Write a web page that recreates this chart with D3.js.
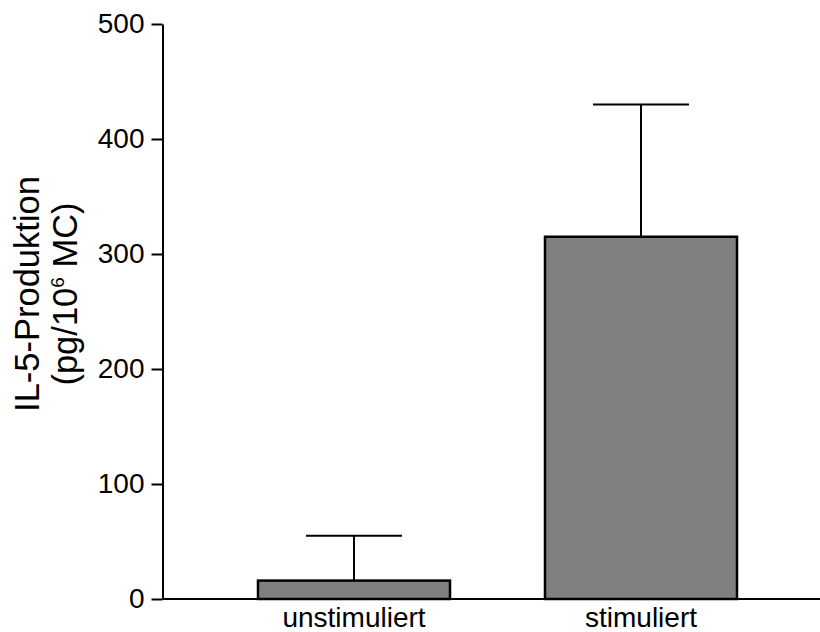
<!DOCTYPE html>
<html>
<head>
<meta charset="utf-8">
<script src="https://cdn.jsdelivr.net/npm/d3@7"></script>
<style>
  body { margin: 0; background: #fff; }
  text { font-family: "Liberation Sans", Arial, sans-serif; fill: #000; }
</style>
</head>
<body>
<div id="chart"></div>
<script>
// data
const categories = ["unstimuliert", "stimuliert"];
const means = [16, 315];
const errors = [39, 115];   // upper error bar length
const yTicks = [0, 100, 200, 300, 400, 500];

const width = 820, height = 632;

const svg = d3.select("#chart").append("svg")
    .attr("width", width)
    .attr("height", height);

const y = d3.scaleLinear().domain([0, 500]).range([599, 24]);
const x = d3.scaleBand().domain(categories).range([258, 737]).paddingInner(0.331).paddingOuter(0);

const axisX = 162.5;

// bars
svg.selectAll(".bar")
    .data(categories)
    .enter().append("rect")
    .attr("class", "bar")
    .attr("x", d => x(d))
    .attr("y", (d, i) => y(means[i]))
    .attr("width", x.bandwidth())
    .attr("height", (d, i) => y(0) - y(means[i]))
    .attr("fill", "#808080")
    .attr("stroke", "#000")
    .attr("stroke-width", 2.5);

// error bars (upper only)
const err = svg.selectAll(".err")
    .data(categories)
    .enter().append("g")
    .attr("class", "err");

err.append("line")
    .attr("x1", d => x(d) + x.bandwidth() / 2)
    .attr("x2", d => x(d) + x.bandwidth() / 2)
    .attr("y1", (d, i) => y(means[i]))
    .attr("y2", (d, i) => y(means[i] + errors[i]))
    .attr("stroke", "#000")
    .attr("stroke-width", 2);

err.append("line")
    .attr("x1", d => x(d) + x.bandwidth() / 4)
    .attr("x2", d => x(d) + x.bandwidth() * 3 / 4)
    .attr("y1", (d, i) => y(means[i] + errors[i]))
    .attr("y2", (d, i) => y(means[i] + errors[i]))
    .attr("stroke", "#000")
    .attr("stroke-width", 2);

// x axis line across the plot
svg.append("line")
    .attr("x1", axisX)
    .attr("x2", width)
    .attr("y1", y(0))
    .attr("y2", y(0))
    .attr("stroke", "#000")
    .attr("stroke-width", 2);

// y axis
const yAxis = svg.append("g")
    .attr("transform", `translate(${axisX},0)`)
    .call(d3.axisLeft(y).tickValues(yTicks).tickSize(11).tickPadding(7).tickSizeOuter(0));

yAxis.select(".domain").attr("stroke", "#000").attr("stroke-width", 2);
yAxis.selectAll(".tick line").attr("stroke", "#000").attr("stroke-width", 2);
yAxis.selectAll(".tick text")
    .attr("font-size", 28)
    .attr("font-family", "Liberation Sans, Arial, sans-serif")
    .attr("fill", "#000");

// category labels
svg.selectAll(".cat")
    .data(categories)
    .enter().append("text")
    .attr("class", "cat")
    .attr("x", d => x(d) + x.bandwidth() / 2)
    .attr("y", 627)
    .attr("text-anchor", "middle")
    .attr("font-size", 28)
    .text(d => d);

// y axis title, two lines
const title = svg.append("g")
    .attr("transform", "translate(0,294) rotate(-90)");

title.append("text")
    .attr("x", 0)
    .attr("y", 39)
    .attr("text-anchor", "middle")
    .attr("font-size", 34.5)
    .text("IL-5-Produktion");

const t2 = title.append("text")
    .attr("x", 0)
    .attr("y", 77)
    .attr("text-anchor", "middle")
    .attr("font-size", 34.5);
t2.append("tspan").text("(pg/10");
t2.append("tspan").attr("font-size", 19).attr("dy", -13).text("6");
t2.append("tspan").attr("dy", 13).text(" MC)");
</script>
</body>
</html>
